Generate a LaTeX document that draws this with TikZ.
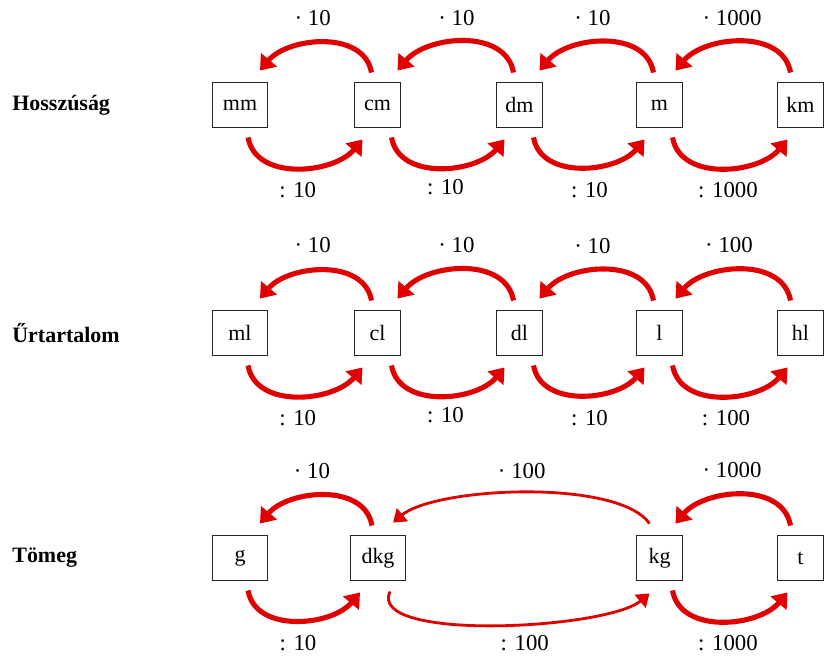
\documentclass[tikz,border=0pt]{standalone}
\usepackage{fontspec}
\setmainfont{Liberation Serif}
\usetikzlibrary{calc,arrows.meta}
\definecolor{convred}{RGB}{225,0,0}

\tikzset{
  unitbox/.style={draw=black!85,line width=0.6pt,minimum width=26.7pt,minimum height=26.1pt,inner sep=0pt,font=\fontsize{12.5}{15}\selectfont},
  wideunitbox/.style={unitbox,minimum width=31.8pt},
  rowlabel/.style={anchor=west,inner sep=0pt,font=\fontsize{12.5}{15}\selectfont\bfseries},
  factor/.style={inner sep=0pt,font=\fontsize{13}{15}\selectfont},
  conv/.style={draw=convred,line width=2.9pt,-{Triangle[width=11.5pt,length=8pt]}},
  longconv/.style={conv,line width=1.6pt,-{Triangle[width=9.5pt,length=7pt]}},
  over/.style={out=100,in=50,looseness=1.0},
  under/.style={out=-80,in=-130,looseness=1.0}
}

\begin{document}
\begin{tikzpicture}[x=0.02cm,y=0.02cm]
\useasboundingbox (0,0) rectangle (824,657);

\node[rowlabel] (hossz) at (12,552) {Hosszúság};
\node[rowlabel] (urtart) at (12,324) {Űrtartalom};
\node[rowlabel] (tomeg) at (12,99) {Tömeg};

\node[wideunitbox] (mm) at (240,552) {mm};
\node[unitbox] (cm) at (377.5,552) {cm};
\node[unitbox] (dm) at (519.5,552) {dm};
\node[unitbox] (m) at (659.5,552) {m};
\node[unitbox] (km) at (800.5,552) {km};

\node[wideunitbox] (ml) at (240,324) {ml};
\node[unitbox] (cl) at (377.5,324) {cl};
\node[unitbox] (dl) at (519.5,324) {dl};
\node[unitbox] (l) at (659.5,324) {l};
\node[unitbox] (hl) at (800.5,324) {hl};

\node[wideunitbox] (g) at (240,99) {g};
\node[wideunitbox] (dkg) at (378,99) {dkg};
\node[unitbox] (kg) at (659.5,99) {kg};
\node[unitbox] (t) at (800.5,99) {t};

\draw[conv] ($(cm.north)+(-6,9)$) to[over] ($(mm.north)+(20,11)$);
\draw[conv] ($(dm.north)+(-6,9)$) to[over] ($(cm.north)+(20,11)$);
\draw[conv] ($(m.north)+(-6,9)$) to[over] ($(dm.north)+(20,11)$);
\draw[conv] ($(km.north)+(-10,9)$) to[over] ($(m.north)+(16,11)$);
\draw[conv] ($(mm.south)+(8,-9)$) to[under] ($(cm.south)+(-15,-11)$);
\draw[conv] ($(cm.south)+(14,-9)$) to[under] ($(dm.south)+(-15,-11)$);
\draw[conv] ($(dm.south)+(14,-9)$) to[under] ($(m.south)+(-15,-11)$);
\draw[conv] ($(m.south)+(13,-9)$) to[under] ($(km.south)+(-13,-11)$);

\draw[conv] ($(cl.north)+(-6,9)$) to[over] ($(ml.north)+(20,11)$);
\draw[conv] ($(dl.north)+(-6,9)$) to[over] ($(cl.north)+(20,11)$);
\draw[conv] ($(l.north)+(-6,9)$) to[over] ($(dl.north)+(20,11)$);
\draw[conv] ($(hl.north)+(-10,9)$) to[over] ($(l.north)+(16,11)$);
\draw[conv] ($(ml.south)+(8,-9)$) to[under] ($(cl.south)+(-15,-11)$);
\draw[conv] ($(cl.south)+(14,-9)$) to[under] ($(dl.south)+(-15,-11)$);
\draw[conv] ($(dl.south)+(14,-9)$) to[under] ($(l.south)+(-15,-11)$);
\draw[conv] ($(l.south)+(13,-9)$) to[under] ($(hl.south)+(-13,-11)$);

\draw[conv] ($(dkg.north)+(-6,9)$) to[over] ($(g.north)+(20,11)$);
\draw[longconv] ($(kg.north)+(-10,11)$) to[out=125,in=40,looseness=0.55] ($(dkg.north)+(15,12)$);
\draw[conv] ($(t.north)+(-10,9)$) to[over] ($(kg.north)+(16,11)$);
\draw[conv] ($(g.south)+(8,-9)$) to[under] ($(dkg.south)+(-18,-11)$);
\draw[longconv] ($(dkg.south)+(12,-10)$) to[out=-115,in=-140,looseness=0.55] ($(kg.south)+(-10,-12)$);
\draw[conv] ($(kg.south)+(13,-9)$) to[under] ($(t.south)+(-13,-11)$);

\node[factor] (mmcm) at ($(mm)!0.5!(cm)+(4,87)$) {· 10};
\node[factor] (cmdm) at ($(cm)!0.5!(dm)+(8,87)$) {· 10};
\node[factor] (dmm) at ($(dm)!0.5!(m)+(3,87)$) {· 10};
\node[factor] (mkm) at ($(m)!0.5!(km)+(2,87)$) {· 1000};
\node[factor] (cmmm) at ($(mm)!0.5!(cm)+(-11,-85)$) {: 10};
\node[factor] (dmcm) at ($(cm)!0.5!(dm)+(-3,-82)$) {: 10};
\node[factor] (mdm) at ($(dm)!0.5!(m)+(0,-85)$) {: 10};
\node[factor] (kmm) at ($(m)!0.5!(km)+(-2,-85)$) {: 1000};

\node[factor] (mlcl) at ($(ml)!0.5!(cl)+(4,88)$) {· 10};
\node[factor] (cldl) at ($(cl)!0.5!(dl)+(8,88)$) {· 10};
\node[factor] (dll) at ($(dl)!0.5!(l)+(3,87)$) {· 10};
\node[factor] (lhl) at ($(l)!0.5!(hl)+(-1,88)$) {· 100};
\node[factor] (clml) at ($(ml)!0.5!(cl)+(-11,-85)$) {: 10};
\node[factor] (dlcl) at ($(cl)!0.5!(dl)+(-3,-82)$) {: 10};
\node[factor] (ldl) at ($(dl)!0.5!(l)+(0,-85)$) {: 10};
\node[factor] (hll) at ($(l)!0.5!(hl)+(-4,-85)$) {: 100};

\node[factor] (gdkg) at ($(g)!0.5!(dkg)+(3,87)$) {· 10};
\node[factor] (dkgkg) at ($(dkg)!0.5!(kg)+(3,87)$) {· 100};
\node[factor] (kgt) at ($(kg)!0.5!(t)+(2,88)$) {· 1000};
\node[factor] (dkgg) at ($(g)!0.5!(dkg)+(-11,-85)$) {: 10};
\node[factor] (kgdkg) at ($(dkg)!0.5!(kg)+(6,-85)$) {: 100};
\node[factor] (tkg) at ($(kg)!0.5!(t)+(-2,-85)$) {: 1000};
\end{tikzpicture}
\end{document}
